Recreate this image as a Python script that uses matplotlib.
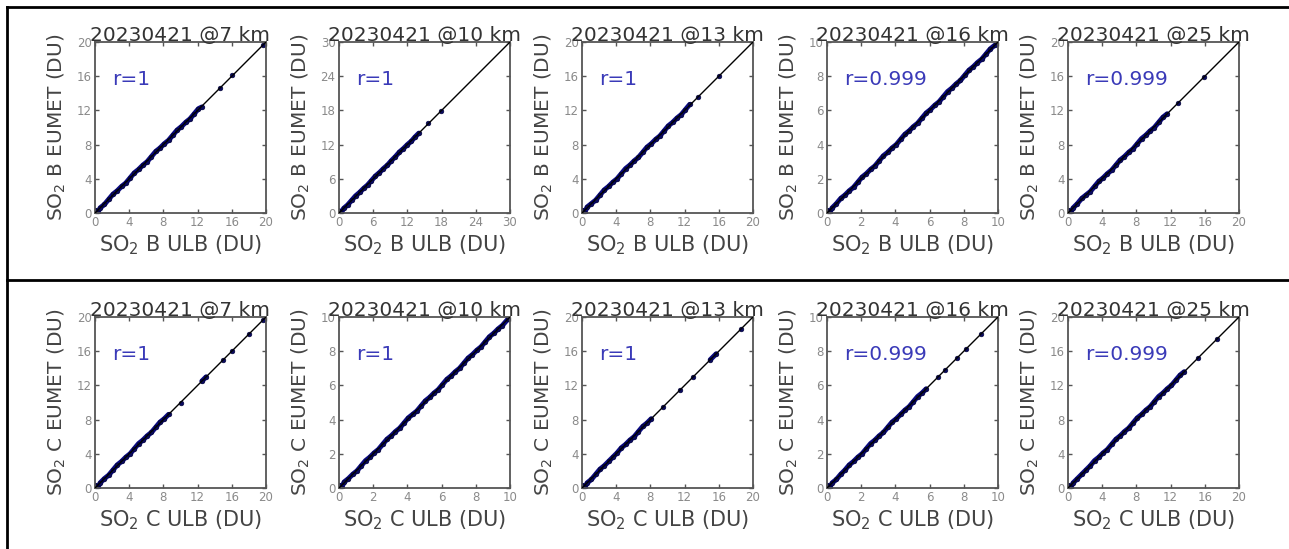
import matplotlib
matplotlib.use('Agg')
import matplotlib.pyplot as plt
from matplotlib.lines import Line2D
import numpy as np

plt.rcParams['font.family'] = ['DejaVu Sans']
plt.rcParams['mathtext.default'] = 'regular'

# panel info (row B then row C)
heights = ['7', '10', '13', '16', '25']
species = ['B', 'C']
r_texts = [['r=1', 'r=1', 'r=1', 'r=0.999', 'r=0.999'],
           ['r=1', 'r=1', 'r=1', 'r=0.999', 'r=0.999']]
limits = [[20, 30, 20, 10, 20],
          [20, 10, 20, 10, 20]]
tick_steps = {20: [0, 4, 8, 12, 16, 20], 30: [0, 6, 12, 18, 24, 30], 10: [0, 2, 4, 6, 8, 10]}

# SO2 B, ULB (x) vs EUMET (y)
b7_x = [0.0, 0.3, 0.1, 0.6, 1.1, 1.6, 2.1, 2.6, 3.1, 3.6, 4.1, 4.6, 5.1, 5.6, 6.1, 6.6, 7.1, 7.6,
        8.1, 8.6, 9.1, 9.6, 10.1, 10.6, 11.1, 11.6, 12.1, 12.5, 14.6, 16.0, 19.7]
b7_y = [0.3, 0.0, 0.2, 0.6, 1.0, 1.6, 2.2, 2.6, 3.1, 3.5, 4.1, 4.7, 5.1, 5.6, 6.0, 6.6, 7.2, 7.6,
        8.1, 8.5, 9.1, 9.7, 10.1, 10.6, 11.0, 11.6, 12.2, 12.4, 14.6, 16.1, 19.7]
b10_x = [0.0, 0.4, 0.1, 0.8, 1.5, 2.2, 2.9, 3.6, 4.3, 5.0, 5.7, 6.4, 7.1, 7.8, 8.5, 9.2, 9.9,
         10.6, 11.3, 12.0, 12.7, 13.3, 14.0, 15.7, 17.9]
b10_y = [0.4, 0.0, 0.2, 0.8, 1.4, 2.2, 3.0, 3.6, 4.3, 4.9, 5.7, 6.5, 7.1, 7.8, 8.4, 9.2, 9.9,
         10.7, 11.3, 12.0, 12.6, 13.3, 14.0, 15.8, 17.9]
b13_x = [0.0, 0.3, 0.1, 0.6, 1.1, 1.6, 2.1, 2.6, 3.1, 3.6, 4.1, 4.6, 5.1, 5.6, 6.1, 6.6, 7.1, 7.6,
         8.1, 8.6, 9.1, 9.6, 10.1, 10.6, 11.1, 11.6, 12.1, 12.6, 13.6, 16.0]
b13_y = [0.3, 0.0, 0.1, 0.7, 1.1, 1.5, 2.1, 2.7, 3.1, 3.6, 4.0, 4.6, 5.2, 5.6, 6.1, 6.5, 7.1, 7.7,
         8.1, 8.6, 9.0, 9.6, 10.2, 10.6, 11.1, 11.5, 12.1, 12.7, 13.6, 16.0]
b16_x = [0.0, 0.15, 0.05, 0.3, 0.55, 0.8, 1.05, 1.3, 1.55, 1.8, 2.05, 2.3, 2.55, 2.8, 3.05, 3.3,
         3.55, 3.8, 4.05, 4.3, 4.55, 4.8, 5.05, 5.3, 5.55, 5.8, 6.05, 6.3, 6.55, 6.8, 7.05, 7.3,
         7.55, 7.8, 8.05, 8.3, 8.55, 8.8, 9.05, 9.3, 9.55, 9.8]
b16_y = [0.15, 0.0, 0.1, 0.3, 0.55, 0.85, 1.05, 1.3, 1.5, 1.8, 2.1, 2.3, 2.55, 2.75, 3.05, 3.35,
         3.55, 3.8, 4.0, 4.3, 4.6, 4.8, 5.05, 5.25, 5.55, 5.85, 6.05, 6.3, 6.5, 6.8, 7.1, 7.3,
         7.55, 7.75, 8.05, 8.35, 8.55, 8.8, 9.0, 9.3, 9.6, 9.8]
b25_x = [0.0, 0.3, 0.1, 0.6, 1.1, 1.6, 2.1, 2.6, 3.1, 3.6, 4.1, 4.6, 5.1, 5.6, 6.1, 6.6, 7.1, 7.6,
         8.1, 8.6, 9.1, 9.6, 10.1, 10.6, 11.1, 11.6, 12.9, 15.9]
b25_y = [0.3, 0.0, 0.2, 0.6, 1.1, 1.7, 2.1, 2.5, 3.1, 3.7, 4.1, 4.6, 5.0, 5.6, 6.2, 6.6, 7.1, 7.5,
         8.1, 8.7, 9.1, 9.6, 10.0, 10.6, 11.2, 11.6, 12.9, 15.9]

# SO2 C, ULB (x) vs EUMET (y)
c7_x = [0.0, 0.3, 0.1, 0.6, 1.1, 1.6, 2.1, 2.6, 3.1, 3.6, 4.1, 4.6, 5.1, 5.6, 6.1, 6.6, 7.1, 7.6,
        8.1, 8.6, 10.0, 12.5, 13.0, 15.0, 16.0, 18.0, 19.6]
c7_y = [0.3, 0.0, 0.2, 0.6, 1.1, 1.5, 2.1, 2.7, 3.1, 3.6, 4.0, 4.6, 5.2, 5.6, 6.1, 6.5, 7.1, 7.7,
        8.1, 8.6, 10.0, 12.5, 13.0, 15.0, 16.0, 18.0, 19.6]
c10_x = [0.0, 0.15, 0.05, 0.3, 0.55, 0.8, 1.05, 1.3, 1.55, 1.8, 2.05, 2.3, 2.55, 2.8, 3.05, 3.3,
         3.55, 3.8, 4.05, 4.3, 4.55, 4.8, 5.05, 5.3, 5.55, 5.8, 6.05, 6.3, 6.55, 6.8, 7.05, 7.3,
         7.55, 7.8, 8.05, 8.3, 8.55, 8.8, 9.05, 9.3, 9.55, 9.9]
c10_y = [0.15, 0.0, 0.05, 0.35, 0.55, 0.8, 1.0, 1.3, 1.6, 1.8, 2.05, 2.25, 2.55, 2.85, 3.05, 3.3,
         3.5, 3.8, 4.1, 4.3, 4.5, 4.8, 5.1, 5.3, 5.55, 5.75, 6.05, 6.35, 6.55, 6.8, 7.0, 7.3,
         7.6, 7.8, 8.05, 8.25, 8.55, 8.85, 9.05, 9.3, 9.5, 9.9]
c13_x = [0.0, 0.3, 0.1, 0.6, 1.1, 1.6, 2.1, 2.6, 3.1, 3.6, 4.1, 4.6, 5.1, 5.6, 6.1, 6.6, 7.1, 7.6,
         8.1, 9.5, 11.5, 13.0, 15.0, 15.7, 18.6]
c13_y = [0.3, 0.0, 0.2, 0.6, 1.0, 1.6, 2.2, 2.6, 3.1, 3.6, 4.1, 4.7, 5.1, 5.6, 6.0, 6.6, 7.2, 7.6,
         8.1, 9.5, 11.5, 13.0, 15.0, 15.7, 18.6]
c16_x = [0.0, 0.15, 0.05, 0.3, 0.55, 0.8, 1.05, 1.3, 1.55, 1.8, 2.05, 2.3, 2.55, 2.8, 3.05, 3.3,
         3.55, 3.8, 4.05, 4.3, 4.55, 4.8, 5.05, 5.3, 5.55, 5.8, 6.5, 6.9, 7.6, 8.1, 9.0]
c16_y = [0.15, 0.0, 0.1, 0.3, 0.5, 0.8, 1.05, 1.35, 1.55, 1.8, 2.0, 2.3, 2.6, 2.8, 3.05, 3.25,
         3.55, 3.85, 4.05, 4.3, 4.55, 4.75, 5.05, 5.35, 5.55, 5.8, 6.5, 6.9, 7.6, 8.1, 9.0]
c25_x = [0.0, 0.3, 0.1, 0.6, 1.1, 1.6, 2.1, 2.6, 3.1, 3.6, 4.1, 4.6, 5.1, 5.6, 6.1, 6.6, 7.1, 7.6,
         8.1, 8.6, 9.1, 9.6, 10.1, 10.6, 11.1, 11.6, 12.1, 12.6, 13.1, 13.6, 15.2, 17.4]
c25_y = [0.3, 0.0, 0.2, 0.6, 1.1, 1.6, 2.1, 2.6, 3.2, 3.6, 4.1, 4.5, 5.1, 5.7, 6.1, 6.6, 7.0, 7.6,
         8.2, 8.6, 9.1, 9.5, 10.1, 10.7, 11.1, 11.6, 12.0, 12.6, 13.2, 13.6, 15.2, 17.4]

xs = [[b7_x, b10_x, b13_x, b16_x, b25_x], [c7_x, c10_x, c13_x, c16_x, c25_x]]
ys = [[b7_y, b10_y, b13_y, b16_y, b25_y], [c7_y, c10_y, c13_y, c16_y, c25_y]]

W, H = 1289, 549
fig = plt.figure(figsize=(W / 100, H / 100), dpi=100)

col_left = [95, 339, 582, 827, 1068]
row_top = [42, 317]
size = 171

for i in range(2):
    for j in range(5):
        ax = fig.add_axes([col_left[j] / W, (H - row_top[i] - size) / H, size / W, size / H])
        lim = limits[i][j]
        x = np.array(xs[i][j])
        y = np.array(ys[i][j])
        # dense cloud drawn as a continuous band, broken where points are far apart
        order = np.argsort(x)
        x, y = x[order], y[order]
        gaps = np.where(np.diff(x) > lim * 0.04)[0] + 1
        bx = np.insert(x, gaps, np.nan)
        by = np.insert(y, gaps, np.nan)
        ax.plot(bx, by, '-', color='#0a0a80', lw=3.6, solid_capstyle='round', zorder=2)
        ax.plot(x, y, 'o', color='#0a0a60', markeredgecolor='#000030',
                markersize=3.4, markeredgewidth=0.4, zorder=2)
        ax.plot([0, lim], [0, lim], '-', color='k', lw=1.0, zorder=3)
        ax.set_xlim(0, lim)
        ax.set_ylim(0, lim)
        ax.set_xticks(tick_steps[lim])
        ax.set_yticks(tick_steps[lim])
        ax.tick_params(direction='in', length=3, width=1, color='#555555', top=True, right=True,
                       labelsize=8.5, labelcolor='#8a8a8a', pad=2.5)
        for sp in ax.spines.values():
            sp.set_color('#555555')
            sp.set_linewidth(1.3)
        ax.set_title('20230421 @' + heights[j] + ' km', fontsize=14.5, color='#333333', pad=1)
        ax.set_xlabel('SO$_2$ ' + species[i] + ' ULB (DU)', fontsize=15, color='#444444', labelpad=3)
        ax.set_ylabel('SO$_2$ ' + species[i] + ' EUMET (DU)', fontsize=14.5, color='#444444',
                      labelpad=6)
        ax.text(0.1, 0.78, r_texts[i][j], transform=ax.transAxes, fontsize=14.5, color='#3a3ab8',
                va='center', ha='left')

# table-like frame lines
lw = 2.0
fig.add_artist(Line2D([7 / W, 1], [1 - 7 / H, 1 - 7 / H], color='k', lw=lw))
fig.add_artist(Line2D([7 / W, 1], [1 - 280 / H, 1 - 280 / H], color='k', lw=lw))
fig.add_artist(Line2D([7 / W, 7 / W], [0, 1 - 7 / H], color='k', lw=lw))

fig.savefig('out.png', dpi=100)
